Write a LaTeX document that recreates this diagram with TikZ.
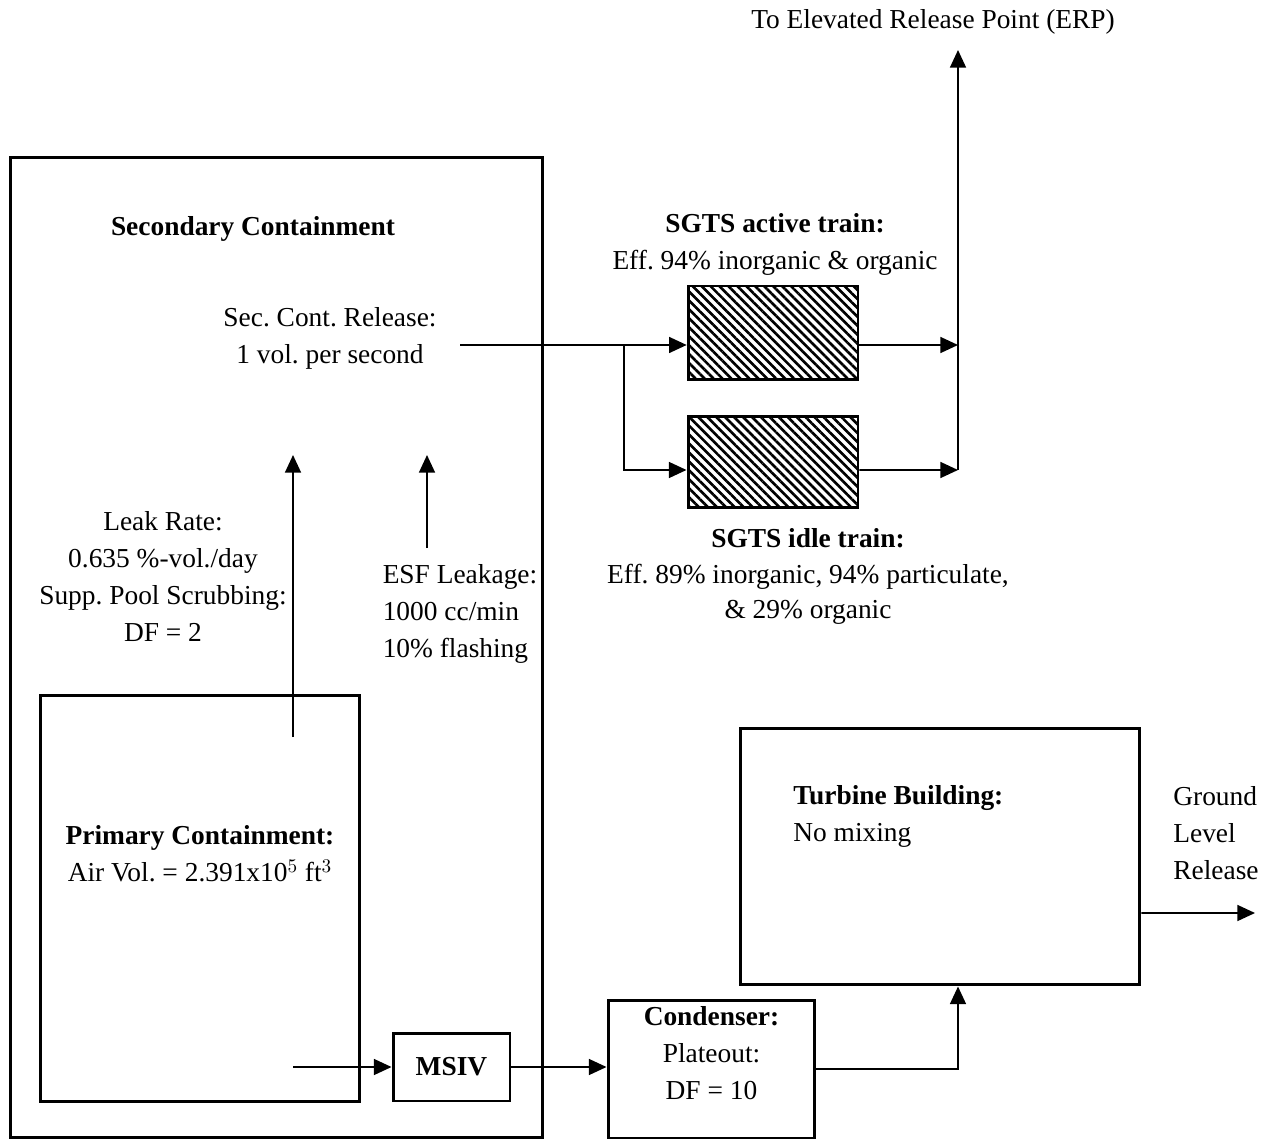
\documentclass[tikz,border=0pt]{standalone}
\usepackage{fontspec}
\setmainfont{Liberation Serif}
\usetikzlibrary{arrows.meta, positioning, patterns.meta}
\frenchspacing

\tikzset{
  box/.style={draw, line width=1.7pt, inner sep=0pt},
  hatchbox/.style={box, pattern={Lines[angle=-45, distance=3.6pt, line width=1.5pt]}},
  flow/.style={line width=1.1pt, -{Triangle[length=10pt, width=9pt]}},
  pipe/.style={line width=1.1pt},
  txt/.style={align=center, inner sep=0pt, font=\fontsize{15.6}{21}\selectfont},
}

\begin{document}
\begin{tikzpicture}[x=0.02cm, y=-0.02cm]
\useasboundingbox (0,0) rectangle (1270,1141);

% containment boxes
\node[box, minimum width=10.66cm, minimum height=19.62cm] (sec) at (276.5,647.5) {};
\node[box, minimum width=6.4cm, minimum height=8.14cm] (prim) at (200,898.5) {};
\node[box, minimum width=2.34cm, minimum height=1.36cm, txt] (msiv) at (451.5,1067) {\bfseries MSIV};
\node[box, minimum width=4.14cm, minimum height=2.76cm] (cond) at (711.5,1069) {};
\node[box, minimum width=8cm, minimum height=5.14cm] (turb) at (940,856.5) {};

% SGTS trains
\node[hatchbox, minimum width=3.4cm, minimum height=1.88cm] (act) at (773,333) {};
\node[hatchbox, minimum width=3.4cm, minimum height=1.84cm] (idle) at (773,462) {};

% texts
\node[txt] (sectitle) at (253,229) {\bfseries Secondary Containment};
\node[txt] (secrel) at (330,338.5) {Sec. Cont. Release:\\1 vol. per second};
\node[txt] (leak) at (163,576.5) {Leak Rate:\\0.635 \%-vol./day\\Supp. Pool Scrubbing:\\DF = 2};
\node[txt, align=left] (esf) at (460,614) {ESF Leakage:\\1000 cc/min\\10\% flashing};
\node[txt] (primtxt) at (200,853.5) {\textbf{Primary Containment:}\\Air Vol. = 2.391x10$^5$ ft$^3$};
\node[txt] (condtxt) at (711.5,1053) {\textbf{Condenser:}\\Plateout:\\DF = 10};
\node[txt, align=left, anchor=west] (turbtxt) at (793,816) {\textbf{Turbine Building:}\\No mixing};
\node[txt, align=left, anchor=west] (ground) at (1173,833.5) {Ground\\Level\\Release};
\node[txt] (acttxt) at (775,244.5) {\textbf{SGTS active train:}\\Eff. 94\% inorganic \& organic};
\node[txt, font=\fontsize{15.6}{20}\selectfont] (idletxt) at (808,576.5) {\textbf{SGTS idle train:}\\Eff. 89\% inorganic, 94\% particulate,\\\& 29\% organic};
\node[txt] (erptxt) at (933,22) {To Elevated Release Point (ERP)};

% connector end points
\coordinate (lkbot) at (293,737);
\coordinate (lktop) at (293,455);
\coordinate (esfbot) at (427,548);
\coordinate (esftop) at (427,455);
\coordinate (scr) at (460,345);
\coordinate (split) at (624,345);
\coordinate (actin) at ([yshift=-0.24cm]act.west);
\coordinate (actout) at ([yshift=-0.24cm]act.east);
\coordinate (idlein) at ([yshift=-0.16cm]idle.west);
\coordinate (idleout) at ([yshift=-0.16cm]idle.east);
\coordinate (merge) at (958,470);
\coordinate (erp) at (958,50);
\coordinate (pcout) at (293,1067);
\coordinate (tbin) at ([xshift=0.36cm]turb.south);
\coordinate (tbout) at ([yshift=-1.13cm]turb.east);
\coordinate (glr) at (1255,913);

% flows
\draw[flow] (lkbot) -- (lktop);
\draw[flow] (esfbot) -- (esftop);
\draw[pipe] (scr) -- (split);
\draw[flow] (split) -- (actin);
\draw[flow] (split) |- (idlein);
\draw[flow] (actout) -- (actout -| merge);
\draw[flow] (idleout) -- (merge);
\draw[flow] (merge) -- (erp);
\draw[flow] (pcout) -- (msiv.west);
\draw[flow] (msiv.east) -- (msiv.east -| cond.west);
\draw[flow] (cond.east) -| (tbin);
\draw[flow] (tbout) -- (glr);

\end{tikzpicture}
\end{document}
